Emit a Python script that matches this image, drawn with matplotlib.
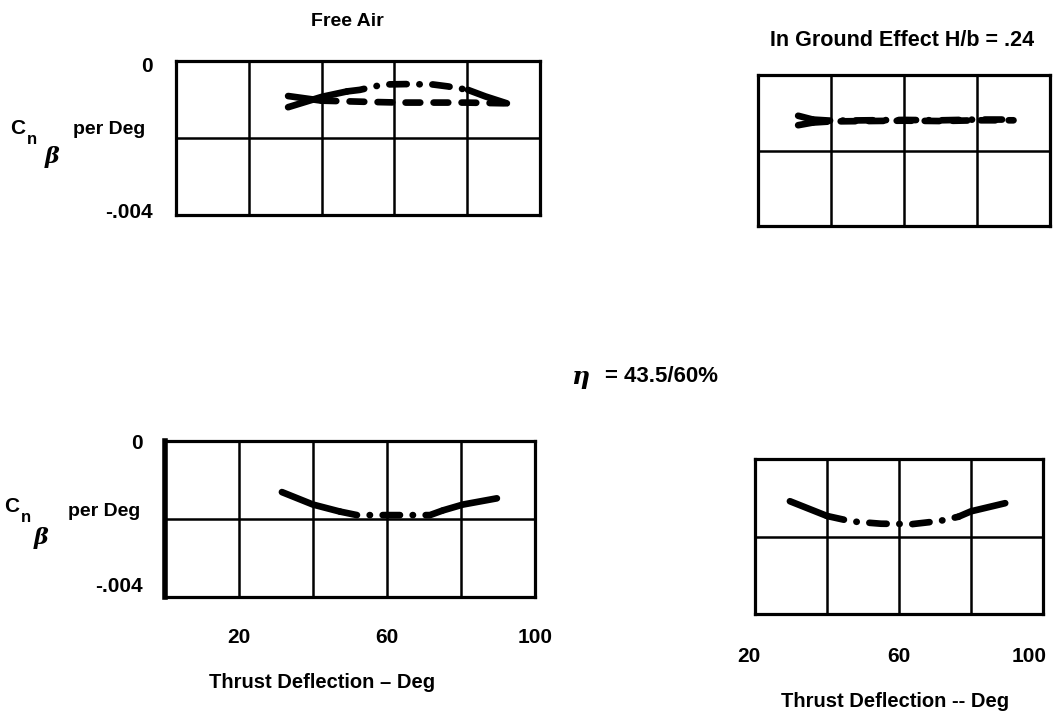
import matplotlib
matplotlib.use("Agg")
import matplotlib.pyplot as plt
import matplotlib.transforms as mtransforms

plt.rcParams['font.family'] = ['Liberation Sans', 'DejaVu Sans']
plt.rcParams['font.weight'] = 'bold'
plt.rcParams['mathtext.fontset'] = 'dejavuserif'

# ---------------- data ----------------
y_ticks = [-0.004, 0.0]
y_tick_labels = ['-.004', '0']
x_ticks = [20, 60, 100]
x_tick_labels = ['20', '60', '100']

# Free Air (top-left)
fa_a_x = [30.8, 40.1, 47.0, 50.5, 56.9, 63.0, 70.6, 74.7, 80.2, 85.0, 90.9]
fa_a_y = [-0.00120, -0.00093, -0.00079, -0.00075, -0.00061, -0.00060, -0.00061,
          -0.00066, -0.00075, -0.00092, -0.00110]
fa_b_x = [30.8, 40.0, 52.0, 61.7, 70.4, 79.5, 90.9]
fa_b_y = [-0.00091, -0.00103, -0.00106, -0.00108, -0.00108, -0.00108, -0.00110]

# In ground effect (top-right)
ge_a_x = [31, 35, 40, 50, 60, 70, 80, 90]
ge_a_y = [-0.00108, -0.00118, -0.00121, -0.00120, -0.00119, -0.00120, -0.00118, -0.00118]
ge_b_x = [31, 35, 40, 50, 60, 70, 80, 90]
ge_b_y = [-0.00133, -0.00126, -0.00123, -0.00122, -0.00121, -0.00122, -0.00120, -0.00120]

# eta = 43.5/60%, free air (bottom-left)
fa2_x = [31.6, 40.0, 47.3, 51.9, 57.3, 64.0, 71.6, 75.1, 80.5, 89.7]
fa2_y = [-0.00131, -0.00163, -0.00181, -0.00190, -0.00190, -0.00190, -0.00190,
         -0.00178, -0.00163, -0.00147]

# eta = 43.5/60%, ground effect (bottom-right)
ge2_x = [29.7, 40.0, 46.8, 55.0, 63.7, 71.3, 76.5, 80.0, 89.5]
ge2_y = [-0.00109, -0.00147, -0.00161, -0.00167, -0.00168, -0.00160, -0.00149,
         -0.00135, -0.00114]

W, H = 1058, 720
fig = plt.figure(figsize=(W / 100, H / 100), dpi=100)
fig.patch.set_facecolor('white')


def ax_at(left, top, right, bottom):
    return fig.add_axes([left / W, 1 - bottom / H, (right - left) / W, (bottom - top) / H])


def px(x, y):
    return x / W, 1 - y / H


LW = 4.8
DASHDOT = (2.6, 1.9, 0.05, 1.9)
DASHED = (2.2, 2.0)


def seg_plot(ax, xs, ys, segments):
    # segments: list of (i0, i1, style)
    for i0, i1, st in segments:
        kw = dict(color='black', lw=LW, solid_capstyle='round', dash_capstyle='round')
        if st == 'solid':
            ax.plot(xs[i0:i1 + 1], ys[i0:i1 + 1], ls='-', **kw)
        elif st == 'dashdot':
            ax.plot(xs[i0:i1 + 1], ys[i0:i1 + 1], ls=(0, DASHDOT), **kw)
        else:
            ax.plot(xs[i0:i1 + 1], ys[i0:i1 + 1], ls=(0, DASHED), **kw)


def frame(ax, xmin, xmax, vlines):
    ax.set_xlim(xmin, xmax)
    ax.set_ylim(-0.004, 0.0)
    for s in ax.spines.values():
        s.set_linewidth(2.3)
        s.set_color('black')
    for v in vlines:
        ax.axvline(v, color='black', lw=1.8, zorder=1)
    ax.axhline(-0.002, color='black', lw=1.8, zorder=1)
    ax.tick_params(length=0)
    ax.set_xticks([])
    ax.set_yticks([])


def shift(lab, dx, dy):
    # dx, dy in pixels (dy positive = up)
    lab.set_transform(lab.get_transform() +
                      mtransforms.ScaledTranslation(dx / 100, dy / 100, fig.dpi_scale_trans))


def ylabels(ax, pad, dys):
    ax.set_yticks(y_ticks)
    ax.set_yticklabels(y_tick_labels, fontsize=15, fontweight='bold')
    ax.tick_params(axis='y', length=0, pad=pad)
    for lab, dy in zip(ax.get_yticklabels(), dys):
        shift(lab, 0, dy)


def xlabels(ax, pad, dxs=(0, 0, 0)):
    ax.set_xticks(x_ticks)
    ax.set_xticklabels(x_tick_labels, fontsize=15, fontweight='bold')
    ax.tick_params(axis='x', length=0, pad=pad)
    for lab, dx in zip(ax.get_xticklabels(), dxs):
        shift(lab, dx, 0)


def cnb(xc, yc, xn, yn, xb, yb, xp, yp):
    fig.text(*px(xc, yc), 'C', fontsize=15, ha='center', va='center', fontweight='bold')
    fig.text(*px(xn, yn), 'n', fontsize=12, ha='center', va='center', fontweight='bold')
    fig.text(*px(xb, yb), r'$\beta$', fontsize=16, ha='center', va='center')
    fig.text(*px(xp, yp), 'per Deg', fontsize=14, ha='left', va='center', fontweight='bold')


# ---- top-left: Free Air
ax1 = ax_at(176, 61, 540, 215)
frame(ax1, 0, 100, [20, 40, 60, 80])
ylabels(ax1, 17, [5, -3])
seg_plot(ax1, fa_a_x, fa_a_y, [(0, 2, 'solid'), (2, 8, 'dashdot'), (8, 10, 'solid')])
seg_plot(ax1, fa_b_x, fa_b_y, [(0, 1, 'solid'), (1, 6, 'dashed')])
fig.text(*px(347, 21), 'Free Air', fontsize=14, ha='center', va='center', fontweight='bold')
cnb(18, 129, 32, 139, 53, 157, 73, 129)

# ---- top-right: In ground effect
ax2 = ax_at(758, 75, 1050, 226)
frame(ax2, 20, 100, [40, 60, 80])
seg_plot(ax2, ge_a_x, ge_a_y, [(0, 1, 'solid'), (1, 7, 'dashdot')])
seg_plot(ax2, ge_b_x, ge_b_y, [(0, 1, 'solid'), (1, 7, 'dashed')])
fig.text(*px(902, 40), 'In Ground Effect H/b = .24', fontsize=15.5, ha='center', va='center',
         fontweight='bold')

# ---- middle label
fig.text(*px(581, 379), r'$\eta$', fontsize=18, ha='center', va='center')
fig.text(*px(605, 376), '= 43.5/60%', fontsize=16, ha='left', va='center', fontweight='bold')

# ---- bottom-left
ax3 = ax_at(165, 441, 535, 597)
frame(ax3, 0, 100, [20, 40, 60, 80])
ax3.spines['left'].set_linewidth(4)
ylabels(ax3, 16, [12, 0])
xlabels(ax3, 22)
seg_plot(ax3, fa2_x, fa2_y, [(0, 2, 'solid'), (2, 7, 'dashdot'), (7, 9, 'solid')])
ax3.set_xlabel('Thrust Deflection – Deg', fontsize=14.5, fontweight='bold')
ax3.xaxis.set_label_coords((322 - 165) / 370, -(673 - 597) / 156, transform=ax3.transAxes)
cnb(12, 506, 26, 517, 42, 538, 68, 512)

# ---- bottom-right
ax4 = ax_at(755, 459, 1043, 614)
frame(ax4, 20, 100, [40, 60, 80])
xlabels(ax4, 24, dxs=(-6, 0, -14))
seg_plot(ax4, ge2_x, ge2_y, [(0, 1, 'solid'), (1, 6, 'dashdot'), (6, 8, 'solid')])
ax4.set_xlabel('Thrust Deflection -- Deg', fontsize=14.5, fontweight='bold')
ax4.xaxis.set_label_coords((895 - 755) / 288, -(692 - 614) / 155, transform=ax4.transAxes)

fig.savefig('out.png', dpi=100, facecolor='white')
